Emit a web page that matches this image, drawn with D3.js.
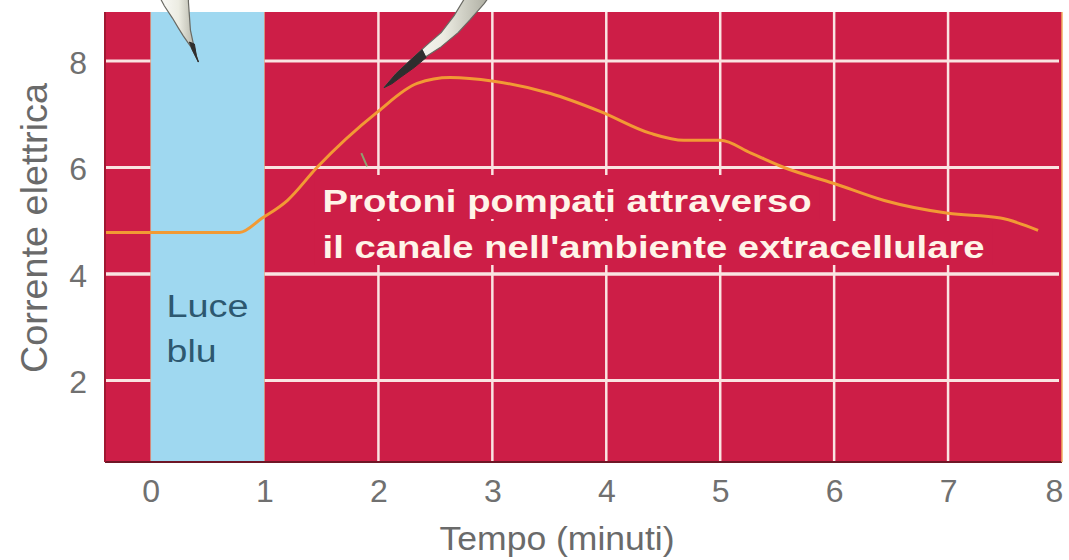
<!DOCTYPE html>
<html>
<head>
<meta charset="utf-8">
<script src="https://cdn.jsdelivr.net/npm/d3@7"></script>
<style>
  html, body { margin: 0; padding: 0; background: #fff; }
  svg { display: block; }
</style>
</head>
<body>
<svg id="chart" width="1069" height="560"></svg>
<script>
'use strict';

// data
const timeMin = [-0.4, 0.78, 0.98, 1.2, 1.46, 1.99, 2.34, 2.63, 3.01, 3.51, 3.95, 4.39, 4.68, 5.0, 5.27, 5.56, 6.0, 6.44, 7.0, 7.46, 7.79];
const current = [4.78, 4.78, 5.05, 5.38, 6.0, 7.04, 7.58, 7.69, 7.62, 7.39, 7.05, 6.64, 6.51, 6.51, 6.27, 6.0, 5.7, 5.38, 5.14, 5.05, 4.82];
const xTicks = [0, 1, 2, 3, 4, 5, 6, 7, 8];
const yTicks = [2, 4, 6, 8];
const xGrid = [2, 3, 4, 5, 6, 7];
const lightBand = [0, 1];
const bandLabel = ['Luce', 'blu'];
const noteLines = ['Protoni pompati attraverso', "il canale nell'ambiente extracellulare"];
// pointer tips (in data units), the rest of each needle runs off the top
const pointerTips = [[0.42, 7.98], [2.05, 7.5]];

const plot = { left: 105, right: 1062, top: 12, bottom: 462 };

const svg = d3.select('#chart');

const xScale = d3.scaleLinear().domain([-0.4, 8]).range([plot.left, plot.right]);
const yScale = d3.scaleLinear().domain([0.47, 8.92]).range([plot.bottom, plot.top]);

const red = '#cd1e47';
const gridCol = '#fae4e2';

// plot background
svg.append('rect')
  .attr('x', plot.left)
  .attr('y', plot.top)
  .attr('width', plot.right - plot.left)
  .attr('height', plot.bottom - plot.top)
  .attr('fill', red);

// grid
const grid = svg.append('g').attr('class', 'grid');
grid.selectAll('.hline')
  .data(yTicks)
  .enter()
  .append('line')
  .attr('x1', plot.left)
  .attr('x2', plot.right - 3)
  .attr('y1', (d) => yScale(d))
  .attr('y2', (d) => yScale(d))
  .attr('stroke', gridCol)
  .attr('stroke-width', 3);
grid.selectAll('.vline')
  .data(xGrid)
  .enter()
  .append('line')
  .attr('x1', (d) => xScale(d))
  .attr('x2', (d) => xScale(d))
  .attr('y1', plot.top)
  .attr('y2', plot.bottom)
  .attr('stroke', gridCol)
  .attr('stroke-width', 2.5);

// blue light band
svg.append('rect')
  .attr('x', xScale(lightBand[0]))
  .attr('y', plot.top)
  .attr('width', xScale(lightBand[1]) - xScale(lightBand[0]))
  .attr('height', plot.bottom - plot.top)
  .attr('fill', '#9fd8f0');
svg.selectAll('.band-edge')
  .data(lightBand)
  .enter()
  .append('line')
  .attr('x1', (d) => xScale(d))
  .attr('x2', (d) => xScale(d))
  .attr('y1', plot.top)
  .attr('y2', plot.bottom)
  .attr('stroke', '#e8a070')
  .attr('stroke-width', 1)
  .attr('opacity', 0.6);

svg.selectAll('.band-label')
  .data(bandLabel)
  .enter()
  .append('text')
  .attr('x', xScale(lightBand[0]) + 16)
  .attr('y', (d, i) => 317 + i * 45)
  .attr('fill', '#2d5870')
  .style('font-family', 'Liberation Sans, Arial, sans-serif')
  .style('font-size', '31px')
  .attr('textLength', (d, i) => (i === 0 ? 82 : 50))
  .attr('lengthAdjust', 'spacingAndGlyphs')
  .text((d) => d);

// boxes behind the note hide the grid
const noteX = xScale(1.51);
const noteBase = [212, 258];
const noteWidths = [489, 662];
svg.selectAll('.note-bg')
  .data(noteLines)
  .enter()
  .append('rect')
  .attr('x', noteX - 8)
  .attr('y', (d, i) => noteBase[i] - 37)
  .attr('width', (d, i) => noteWidths[i] + 16)
  .attr('height', 44)
  .attr('fill', red);
// keep the y=4 and y=6 lines on top of the boxes
grid.selectAll('.hline2')
  .data([4, 6])
  .enter()
  .append('line')
  .attr('x1', plot.left)
  .attr('x2', plot.right - 3)
  .attr('y1', (d) => yScale(d))
  .attr('y2', (d) => yScale(d))
  .attr('stroke', gridCol)
  .attr('stroke-width', 3);

// current curve
const pts = timeMin.map((t, i) => [t, current[i]]);
const line = d3.line()
  .x((d) => xScale(d[0]))
  .y((d) => yScale(d[1]))
  .curve(d3.curveMonotoneX);
svg.append('path')
  .datum(pts)
  .attr('d', line)
  .attr('fill', 'none')
  .attr('stroke', '#f29a34')
  .attr('stroke-width', 3);

// note text
svg.selectAll('.note')
  .data(noteLines)
  .enter()
  .append('text')
  .attr('x', noteX)
  .attr('y', (d, i) => noteBase[i])
  .attr('fill', '#fff4e8')
  .style('font-family', 'Liberation Sans, Arial, sans-serif')
  .style('font-weight', 'bold')
  .style('font-size', '32px')
  .attr('textLength', (d, i) => noteWidths[i])
  .attr('lengthAdjust', 'spacingAndGlyphs')
  .text((d) => d);

// small stray tick near the curve
svg.append('line')
  .attr('x1', xScale(1.85)).attr('y1', yScale(6.27))
  .attr('x2', xScale(1.9)).attr('y2', yScale(6.02))
  .attr('stroke', '#8fa070')
  .attr('stroke-width', 2);

// plot frame
svg.append('line')
  .attr('x1', plot.left).attr('x2', plot.right)
  .attr('y1', plot.bottom).attr('y2', plot.bottom)
  .attr('stroke', '#6e1626')
  .attr('stroke-width', 2);
svg.append('line')
  .attr('x1', plot.left).attr('x2', plot.left)
  .attr('y1', plot.top).attr('y2', plot.bottom)
  .attr('stroke', '#a01832')
  .attr('stroke-width', 2);
svg.append('line')
  .attr('x1', plot.right).attr('x2', plot.right)
  .attr('y1', plot.top).attr('y2', plot.bottom)
  .attr('stroke', '#f0b060')
  .attr('stroke-width', 1.5);

// pointers (needles coming from above)
const defs = svg.append('defs');
const grad = defs.append('linearGradient')
  .attr('id', 'needle')
  .attr('x1', '0').attr('x2', '1').attr('y1', '0').attr('y2', '0');
grad.append('stop').attr('offset', '0').attr('stop-color', '#ffffff');
grad.append('stop').attr('offset', '0.55').attr('stop-color', '#ecece2');
grad.append('stop').attr('offset', '1').attr('stop-color', '#a8a89c');

const needleShapes = [
  [[0, 0], [-8, -16], [-15, -26], [-20, -34], [-26, -44], [-34, -56], [-44, -75], [-10, -75], [-10, -60], [-8, -32], [-5, -18], [-2, -6]],
  [[0, 0], [12, -14], [27, -28], [42, -42], [57, -55], [70, -72], [84, -95], [108, -95], [100, -84], [86, -68], [74, -55], [56, -40], [37, -28], [20, -14], [8, -5]],
];
svg.selectAll('.needle')
  .data(pointerTips)
  .enter()
  .append('path')
  .attr('d', (d, i) => {
    const tx = xScale(d[0]);
    const ty = yScale(d[1]);
    return 'M' + needleShapes[i].map((p) => (tx + p[0]) + ',' + (ty + p[1])).join('L') + 'Z';
  })
  .attr('fill', 'url(#needle)')
  .attr('stroke', '#6a6a64')
  .attr('stroke-width', 1.2);
// dark tips
const tipShapes = [
  [[0, 0], [-6, -12], [-9, -20], [-4, -18], [-2, -6]],
  [[0, 0], [12, -14], [27, -28], [38, -38], [42, -30], [30, -20], [16, -10], [8, -4]],
];
svg.selectAll('.needle-tip')
  .data(pointerTips)
  .enter()
  .append('path')
  .attr('d', (d, i) => {
    const tx = xScale(d[0]);
    const ty = yScale(d[1]);
    return 'M' + tipShapes[i].map((p) => (tx + p[0]) + ',' + (ty + p[1])).join('L') + 'Z';
  })
  .attr('fill', '#2e2e2e')
  .attr('stroke', '#2e2e2e')
  .attr('stroke-width', 1);

// axes
const axisFont = 'Liberation Sans, Arial, sans-serif';
const xAxis = d3.axisBottom(xScale).tickValues(xTicks).tickSize(0).tickPadding(17).tickFormat(d3.format('d'));
svg.append('g')
  .attr('class', 'x axis')
  .attr('transform', 'translate(0,' + plot.bottom + ')')
  .call(xAxis)
  .call((g) => {
    g.select('.domain').remove();
    g.selectAll('text')
      .attr('fill', '#707070')
      .style('font-family', axisFont)
      .style('font-size', '32px')
      .attr('dx', (d) => (d === 8 ? -8 : 0));
  });

const yAxis = d3.axisLeft(yScale).tickValues(yTicks).tickSize(0).tickPadding(18);
svg.append('g')
  .attr('class', 'y axis')
  .attr('transform', 'translate(' + plot.left + ',0)')
  .call(yAxis)
  .call((g) => {
    g.select('.domain').remove();
    g.selectAll('text')
      .attr('fill', '#707070')
      .style('font-family', axisFont)
      .style('font-size', '32px')
      .attr('dy', '0.38em');
  });

// axis titles
svg.append('text')
  .attr('x', 557)
  .attr('y', 550)
  .attr('text-anchor', 'middle')
  .attr('fill', '#6a6a6a')
  .style('font-family', axisFont)
  .style('font-size', '33px')
  .attr('textLength', 235)
  .attr('lengthAdjust', 'spacingAndGlyphs')
  .text('Tempo (minuti)');

svg.append('text')
  .attr('transform', 'translate(47,228) rotate(-90)')
  .attr('text-anchor', 'middle')
  .attr('fill', '#6a6a6a')
  .style('font-family', axisFont)
  .style('font-size', '36px')
  .attr('textLength', 290)
  .attr('lengthAdjust', 'spacingAndGlyphs')
  .text('Corrente elettrica');
</script>
</body>
</html>
